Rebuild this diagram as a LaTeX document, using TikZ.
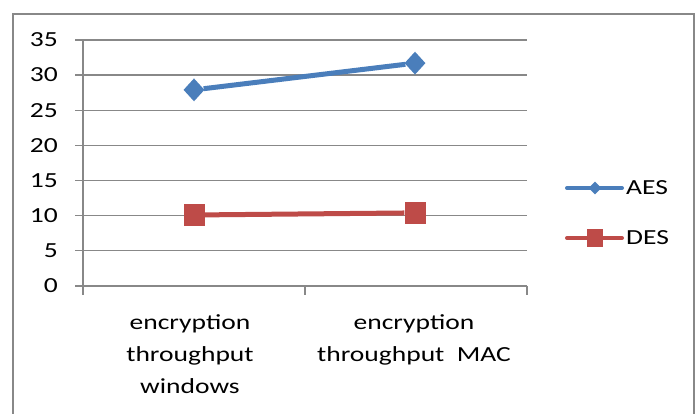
\documentclass[tikz,border=0pt]{standalone}
\usepackage{fontspec}
\setmainfont{Carlito}[FakeStretch=1.28]
\usetikzlibrary{shapes.geometric}
\definecolor{aesblue}{HTML}{4A7EBB}
\definecolor{desred}{HTML}{BE4B48}
\definecolor{gridgray}{HTML}{888888}
\begin{document}
\begin{tikzpicture}[x=1pt,y=1pt,
  lbl/.style={font=\fontsize{21.5}{32}\selectfont,text=black,inner sep=0pt},
  gridline/.style={gridgray,line width=1.3pt},
  aesmark/.style={diamond,fill=aesblue,inner sep=0pt,minimum width=21pt,minimum height=23pt},
  desmark/.style={rectangle,fill=desred,inner sep=0pt,minimum width=21pt,minimum height=22pt}]
\useasboundingbox (0,0) rectangle (699,414);
% Frame
\draw[gridgray,line width=2pt] (13,0) -- (13,400) -- (694,400) -- (694,0);

% Grid and value labels
\foreach \v in {0,5,...,35}{
  \draw[gridline] (75,{128+\v*7.03}) -- (527,{128+\v*7.03});
  \node[lbl,anchor=east] (y\v) at (58,{128+\v*7.03}) {\v};
}

% Axes
\draw[gridline] (83,374) -- (83,119);
\foreach \x in {305,527}
  \draw[gridline] (\x,128) -- (\x,119);

% Category labels
\node[lbl,align=center,anchor=north] (cwin) at (190,100) {encryption\\throughput\\windows};
\node[lbl,align=center,anchor=north] (cmac) at (414,100) {encryption\\throughput\ \ MAC};

% AES series
\node[aesmark] (aes1) at (194,{128+27.9*7.03}) {};
\node[aesmark] (aes2) at (415,{128+31.7*7.03}) {};
\draw[aesblue,line width=5pt] (aes1) -- (aes2);

% DES series
\node[desmark] (des1) at (194,{128+10.1*7.03}) {};
\node[desmark] (des2) at (415,{128+10.4*7.03}) {};
\draw[desred,line width=5pt] (des1) -- (des2);

% Legend
\coordinate (aesl) at (567,226);
\coordinate (aesr) at (622,226);
\draw[aesblue,line width=4pt,line cap=round] (aesl) -- (aesr);
\node[aesmark,minimum width=13pt,minimum height=13pt] (aesk) at (595,226) {};
\node[lbl,anchor=west] (aest) at (626,226) {AES};
\coordinate (desl) at (567,176);
\coordinate (desr) at (622,176);
\draw[desred,line width=4pt,line cap=round] (desl) -- (desr);
\node[desmark,minimum width=16pt,minimum height=18pt] (desk) at (595,176) {};
\node[lbl,anchor=west] (dest) at (626,176) {DES};
\end{tikzpicture}
\end{document}
